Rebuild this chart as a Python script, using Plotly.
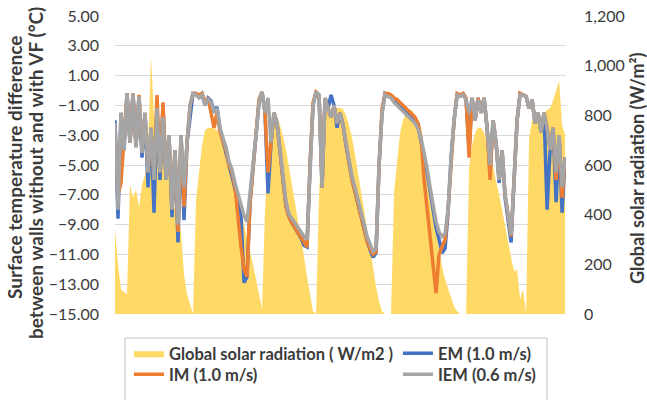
import plotly.graph_objects as go

# x positions (sample index along the time axis)
time_index = list(range(151))

# Global solar radiation (W/m2)
solar_radiation = [
    340, 200, 100, 90, 80, 520, 470, 500, 430, 520,
    560, 650, 1040, 800, 780, 760, 740, 600, 580, 450,
    420, 400, 330, 160, 80, 40, 0, 460, 560, 680,
    740, 750, 750, 750, 740, 715, 690, 655, 620, 580,
    530, 480, 420, 360, 310, 260, 200, 140, 80, 20,
    420, 650, 750, 790, 790, 760, 715, 660, 590, 520,
    450, 380, 310, 230, 150, 70, 10, 0, 480, 720,
    800, 820, 830, 830, 830, 830, 825, 800, 760, 710,
    640, 570, 500, 420, 340, 260, 180, 110, 50, 10,
    0, 0, 0, 490, 620, 730, 780, 810, 820, 820,
    800, 760, 700, 640, 570, 490, 410, 330, 260, 190,
    140, 100, 60, 30, 10, 0, 0, 0, 590, 680,
    730, 750, 750, 730, 690, 650, 590, 540, 480, 420,
    350, 290, 230, 170, 180, 60, 100, 0, 710, 780,
    790, 800, 790, 810, 820, 830, 860, 900, 940, 760,
    720,
]

# EM (1.0 m/s)
em_diff = [
    -2.0, -8.6, -1.5, -4.0, -0.2, -3.5, -0.2, -3.8, -0.4, -4.5,
    -1.5, -6.5, -2.5, -8.2, -1.2, -6.0, -1.0, -6.0, -3.0, -8.5,
    -4.0, -10.2, -3.0, -8.7, -3.5, -1.7, -0.2, -0.2, -0.4, -0.2,
    -0.9, -0.5, -0.7, -1.4, -1.1, -2.6, -3.4, -4.0, -5.0, -5.6,
    -6.6, -7.5, -8.5, -12.9, -12.5, -7.5, -5.0, -3.0, -0.8, -0.1,
    -1.5, -6.9, -3.5, -1.5, -2.2, -4.3, -6.0, -7.8, -8.5, -8.9,
    -9.2, -9.6, -9.9, -10.4, -10.5, -5.0, -1.0, -0.1, -0.3, -6.5,
    -0.5, -1.2, -0.3, -1.0, -2.5, -1.5, -2.3, -3.7, -5.0, -6.0,
    -6.8, -7.6, -8.6, -9.3, -10.1, -10.7, -11.2, -10.9, -5.0, -1.5,
    -0.2, -0.3, -0.4, -0.6, -0.8, -1.0, -1.2, -1.4, -1.6, -1.8,
    -2.0, -2.4, -3.3, -4.4, -5.5, -6.8, -8.1, -9.2, -10.0, -10.9,
    -10.6, -8.2, -4.5, -2.0, -0.3, -0.3, -0.2, -0.6, -4.0, -0.5,
    -2.0, -0.5, -1.5, -0.5, -2.5, -5.5, -2.0, -3.5, -6.2, -4.0,
    -7.2, -8.8, -10.2, -6.0, -2.0, -0.2, -0.3, -0.4, -1.2, -0.6,
    -2.2, -1.5, -2.8, -1.5, -8.0, -4.0, -2.5, -7.5, -3.0, -8.2,
    -4.5,
]

# IM (1.0 m/s)
im_diff = [
    -2.5, -7.0, -6.2, -3.5, -0.2, -3.5, -0.2, -3.8, -0.3, -4.0,
    -1.5, -5.5, -2.5, -6.0, -0.3, -5.5, -0.8, -6.0, -3.0, -8.0,
    -4.0, -9.5, -3.0, -7.8, -3.5, -1.0, -0.2, -0.2, -0.3, -0.2,
    -0.8, -0.5, -1.5, -2.5, -1.5, -2.8, -3.4, -4.0, -5.0, -5.5,
    -6.5, -8.7, -10.5, -12.0, -12.5, -7.5, -5.0, -3.0, -0.6, -0.1,
    -1.5, -5.5, -3.5, -1.5, -2.2, -4.3, -6.0, -7.8, -8.5, -8.9,
    -9.2, -9.6, -9.9, -10.2, -10.5, -5.0, -0.8, -0.1, -0.3, -6.5,
    -0.5, -1.2, -1.8, -1.0, -2.2, -1.5, -2.3, -3.6, -5.0, -6.0,
    -6.8, -7.6, -8.6, -9.3, -10.1, -10.6, -11.0, -10.8, -5.0, -1.2,
    -0.2, -0.2, -0.3, -0.5, -0.6, -0.8, -1.0, -1.2, -1.4, -1.6,
    -1.8, -2.2, -3.2, -6.0, -8.0, -9.5, -11.5, -13.6, -11.0, -10.5,
    -10.0, -8.0, -4.5, -2.0, -0.2, -0.3, -0.2, -0.5, -4.5, -0.5,
    -2.0, -0.5, -1.5, -0.5, -2.5, -6.0, -2.0, -3.5, -6.0, -4.0,
    -7.0, -8.5, -9.8, -6.0, -2.0, -0.2, -0.3, -0.4, -1.2, -0.6,
    -2.2, -1.5, -2.8, -1.5, -2.5, -4.0, -2.5, -6.0, -3.0, -7.2,
    -4.5,
]

# IEM (0.6 m/s)
iem_diff = [
    -2.2, -8.0, -1.5, -4.0, -0.2, -3.5, -0.2, -3.8, -0.4, -4.2,
    -1.5, -5.5, -2.5, -6.0, -1.2, -5.5, -1.8, -6.0, -3.0, -8.0,
    -4.0, -9.0, -3.0, -6.5, -3.5, -1.0, -0.2, -0.3, -0.5, -0.3,
    -1.0, -0.6, -0.8, -1.5, -1.2, -2.5, -3.2, -3.8, -4.8, -5.3,
    -6.2, -7.0, -7.6, -8.4, -8.8, -7.0, -5.0, -3.0, -0.8, -0.1,
    -1.5, -0.5, -3.5, -1.5, -2.2, -4.0, -5.8, -7.5, -8.3, -8.6,
    -9.0, -9.3, -9.5, -9.8, -10.0, -5.0, -1.0, -0.1, -0.3, -6.5,
    -0.5, -1.2, -1.8, -1.0, -2.2, -1.5, -2.3, -3.5, -4.8, -5.8,
    -6.5, -7.3, -8.3, -9.0, -9.8, -10.3, -10.8, -10.6, -5.0, -1.5,
    -0.3, -0.4, -0.5, -0.8, -1.0, -1.2, -1.4, -1.6, -1.8, -2.0,
    -2.2, -2.6, -3.2, -4.2, -5.2, -6.5, -7.8, -8.8, -9.5, -9.8,
    -9.6, -8.0, -4.5, -2.0, -0.3, -0.4, -0.3, -0.6, -1.5, -0.5,
    -2.0, -0.6, -1.5, -0.5, -2.5, -5.0, -2.0, -3.5, -6.0, -4.0,
    -7.0, -8.5, -9.7, -6.0, -2.0, -0.3, -0.3, -0.4, -1.2, -0.6,
    -2.2, -1.5, -2.8, -1.5, -2.5, -4.0, -2.5, -5.5, -3.0, -6.5,
    -4.5,
]

left_ticks = [5, 3, 1, -1, -3, -5, -7, -9, -11, -13, -15]
right_ticks = [0, 200, 400, 600, 800, 1000, 1200]

FONT = "Lato"
TXT = "#3b3b3b"
L, T, W, H = 115, 16, 451, 298   # plot area in pixels


def px_x(p):
    return (p - L) / W


def px_y(p):
    return (T + H - p) / H


fig = go.Figure()

fig.add_trace(go.Scatter(
    x=time_index, y=solar_radiation, name="Global solar radiation ( W/m2 )",
    mode="lines", line=dict(color="#FFD966", width=0),
    fill="tozeroy", fillcolor="#FFD966", yaxis="y", legend="legend",
))
fig.add_trace(go.Scatter(
    x=time_index, y=em_diff, name="EM (1.0 m/s)", mode="lines",
    line=dict(color="#4472C4", width=3.5), yaxis="y2", legend="legend",
))
fig.add_trace(go.Scatter(
    x=time_index, y=im_diff, name="IM (1.0 m/s)", mode="lines",
    line=dict(color="#ED7D31", width=3.5), yaxis="y2", legend="legend2",
))
fig.add_trace(go.Scatter(
    x=time_index, y=iem_diff, name="IEM (0.6 m/s)", mode="lines",
    line=dict(color="#A5A5A5", width=3.5), yaxis="y2", legend="legend2",
))

legend_common = dict(
    orientation="h", x=-0.0001, xanchor="left", yanchor="top",
    indentation=14, entrywidth=210, itemwidth=30,
    font=dict(size=16.5, family=FONT, color=TXT, weight="bold"),
    bgcolor="rgba(0,0,0,0)", borderwidth=0,
)

fig.update_layout(
    width=647, height=400,
    margin=dict(l=L, r=647 - L - W, t=T, b=400 - T - H, autoexpand=False),
    paper_bgcolor="white", plot_bgcolor="white",
    font=dict(family=FONT, color=TXT),
    xaxis=dict(range=[0, 150.3], showticklabels=False, showgrid=False,
               zeroline=False, showline=False, ticks=""),
    yaxis=dict(range=[0, 1200], side="right", tickvals=right_ticks,
               tickformat=",d", showgrid=False, zeroline=False,
               ticks="", ticklabelstandoff=17,
               tickfont=dict(size=16, family=FONT, color=TXT)),
    yaxis2=dict(range=[-15, 5], side="left", overlaying="y",
                tickvals=left_ticks, tickformat=".2f", showgrid=True,
                gridcolor="#d9d9d9", gridwidth=1, zeroline=False,
                ticks="", ticklabelstandoff=15,
                tickfont=dict(size=16, family=FONT, color=TXT)),
    showlegend=True,
    legend=dict(legend_common, y=px_y(336)),
    legend2=dict(legend_common, y=px_y(357)),
)

# legend frame
fig.add_shape(type="rect", xref="paper", yref="paper",
              x0=px_x(125), x1=px_x(547), y0=px_y(338), y1=px_y(405),
              line=dict(color="#bfbfbf", width=1), fillcolor="rgba(0,0,0,0)")

# axis titles
title_font = dict(size=19, family=FONT, color=TXT, weight="bold")
fig.add_annotation(
    text="Surface temperature difference",
    xref="paper", yref="paper", x=px_x(15), y=px_y(168),
    xanchor="center", yanchor="middle", textangle=-90, showarrow=False,
    font=title_font,
)
fig.add_annotation(
    text="between walls without and with VF (°C)",
    xref="paper", yref="paper", x=px_x(35), y=px_y(173),
    xanchor="center", yanchor="middle", textangle=-90, showarrow=False,
    font=title_font,
)
fig.add_annotation(
    text="Global solar radiation (W/m²)",
    xref="paper", yref="paper", x=px_x(637), y=px_y(169),
    xanchor="center", yanchor="middle", textangle=-90, showarrow=False,
    font=dict(size=18, family=FONT, color=TXT, weight="bold"),
)

fig.write_html("out.html",
               config={"displayModeBar": False},
               post_script="document.body.style.margin='0px';")
